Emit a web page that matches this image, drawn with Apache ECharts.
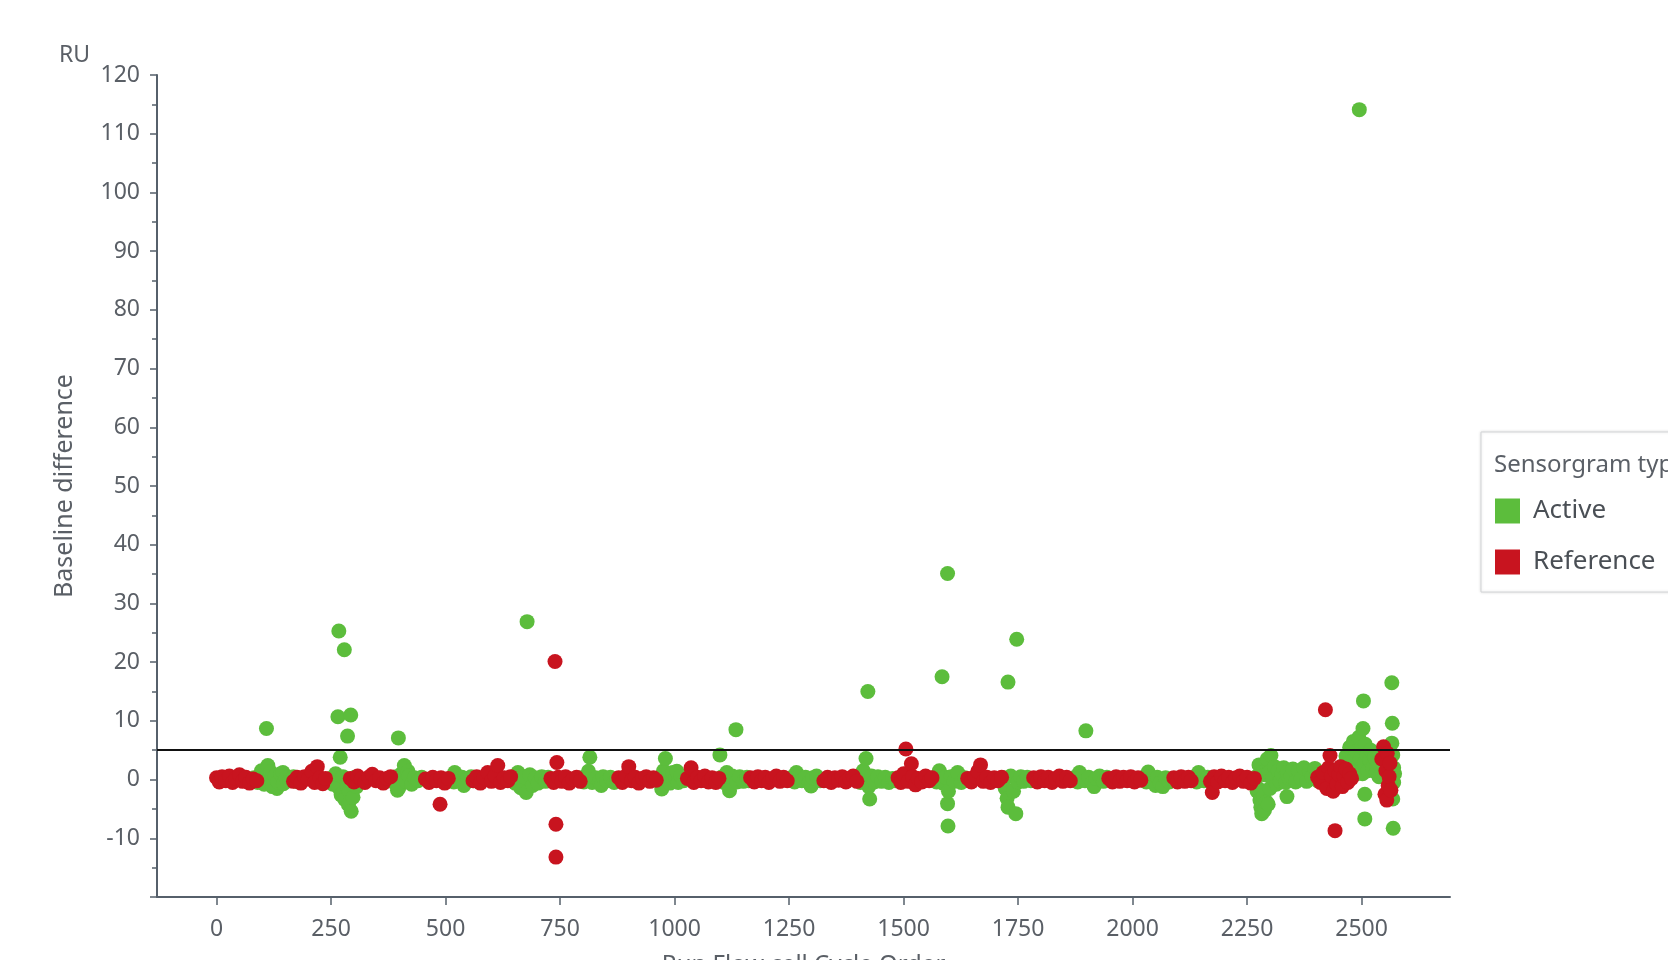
<!DOCTYPE html>
<html>
<head>
<meta charset="utf-8">
<script src="https://cdn.jsdelivr.net/npm/echarts@6/dist/echarts.min.js"></script>
<style>
html,body{margin:0;padding:0;background:#fff;}
#chart{width:1668px;height:960px;}
</style>
</head>
<body>
<div id="chart"></div>
<script>
// ---- data ----
const seriesNames = ['Active', 'Reference'];
const xTickValues = [0, 250, 500, 750, 1000, 1250, 1500, 1750, 2000, 2250, 2500];
const thresholdValue = 5;

const activePoints = [
  [82,0.3],[90,-0.5],[98,1.5],[104,-0.8],[109,8.7],[112,2.4],[116,0.4],[118,1.3],[122,-1.2],[128,0.6],[132,-1.5],[134,-0.4],[140,1.0],[145,1.2],[146,-0.7],[152,0.3],[160,-0.2],[168,0.5],[174,-0.3],
  [248,0.2],[254,-0.8],[260,1.0],[265,10.7],[267,25.3],[268,-1.5],[270,3.8],[272,-2.6],[276,0.5],[279,22.1],[280,-3.4],[284,-1.0],[286,7.4],[288,-4.3],[290,-2.0],[293,11.0],[294,-5.4],[298,-3.0],[302,0.4],[306,-1.2],
  [386,-0.4],[392,0.5],[395,-1.8],[397,7.1],[398,-1.4],[404,1.0],[410,2.4],[414,-0.3],[418,1.4],[420,0.6],[426,-0.8],[432,0.3],[440,-0.2],[448,0.4],
  [512,0.3],[518,-0.4],[520,1.2],[524,0.6],[530,-0.2],[536,0.4],[540,-1.0],[542,-0.5],[548,0.2],[556,0.5],[562,-0.2],
  [646,0.2],[652,-0.6],[658,1.2],[664,-1.4],[670,0.5],[676,-2.2],[678,26.9],[684,0.8],[690,-1.0],[696,0.3],[702,-0.6],[710,0.5],[718,-0.3],[724,0.4],
  [796,0.3],[802,-0.4],[808,0.6],[812,1.4],[815,3.8],[820,-0.5],[828,0.3],[836,-0.3],[840,-1.0],[844,0.5],[852,-0.2],[860,0.4],[868,-0.5],[874,0.2],
  [964,0.2],[970,-0.5],[972,-1.6],[976,1.5],[980,3.6],[984,0.4],[990,-0.6],[996,1.2],[1002,0.3],[1005,1.4],[1008,-0.5],[1014,0.6],[1020,-0.2],
  [1099,4.2],[1102,0.4],[1108,-0.5],[1114,1.2],[1120,-1.9],[1126,0.6],[1134,8.5],[1136,-0.4],[1142,0.5],[1150,-0.3],[1158,0.4],[1162,-0.2],
  [1254,0.3],[1262,-0.4],[1266,1.2],[1270,0.5],[1278,-0.2],[1286,0.4],[1294,-0.5],[1298,-1.1],[1302,0.3],[1310,0.6],[1318,-0.2],
  [1400,0.4],[1406,-0.5],[1412,1.5],[1418,3.6],[1422,15.0],[1424,-1.2],[1426,-3.3],[1430,0.6],[1436,-0.4],[1444,0.5],[1452,-0.3],[1460,0.4],[1468,-0.5],[1476,0.2],[1482,-0.2],
  [1566,0.3],[1572,-0.4],[1578,1.5],[1584,17.5],[1586,-0.6],[1592,0.4],[1596,35.1],[1596,-4.1],[1597,-7.9],[1598,-2.0],[1604,0.5],[1610,-0.3],[1618,1.2],[1626,-0.5],[1634,0.3],
  [1718,0.3],[1722,-1.5],[1726,-3.2],[1728,16.6],[1728,-4.7],[1734,0.6],[1740,-2.0],[1745,-5.8],[1747,23.9],[1750,-0.4],[1756,0.5],[1762,-0.3],[1770,0.4],[1778,-0.2],
  [1872,0.3],[1880,-0.4],[1884,1.2],[1888,0.5],[1896,-0.2],[1898,8.3],[1904,0.4],[1912,-0.5],[1916,-1.2],[1920,0.2],[1928,0.6],[1936,-0.3],[1944,0.4],
  [2022,0.3],[2030,-0.4],[2034,1.3],[2038,0.5],[2046,-0.2],[2050,-1.0],[2054,0.4],[2060,-0.6],[2066,-1.2],[2072,0.3],[2080,-0.4],[2086,0.2],
  [2132,0.3],[2140,-0.4],[2144,1.2],[2148,0.5],[2156,-0.2],[2164,0.4],
  [2270,0.5],[2272,-2.0],[2274,-1.5],[2276,2.5],[2278,-3.5],[2280,-4.7],[2282,-5.8],[2284,1.2],[2286,-2.8],[2288,-5.2],[2290,0.8],[2292,-3.8],[2294,3.5],[2296,-4.2],[2298,1.2],[2300,-1.5],[2302,4.1],[2306,0.3],[2310,2.2],[2314,-0.8],[2318,1.5],[2322,-0.3],[2326,0.9],[2330,2.0],[2334,-0.5],[2337,-2.9],[2338,1.2],[2342,0.2],[2346,0.6],[2350,1.8],[2356,-0.4],[2362,1.5],[2368,0.2],[2374,2.0],[2380,-0.3],[2386,1.4],[2392,0.5],[2398,1.9],[2404,-0.2],
  [2462,2.5],[2466,4.0],[2470,1.2],[2474,5.5],[2478,3.0],[2482,6.5],[2484,0.8],[2488,4.8],[2490,2.2],[2494,7.2],[2495,114.1],[2497,3.5],[2500,5.5],[2502,1.0],[2503,8.7],[2504,13.4],[2506,2.8],[2507,-2.5],[2507,-6.7],[2508,6.0],[2512,4.2],[2514,1.5],[2518,3.3],[2520,5.0],[2524,2.0],[2528,3.8],[2532,1.2],[2536,2.8],[2538,0.5],
  [2566,16.5],[2567,9.6],[2568,4.2],[2570,2.0],[2570,-0.5],[2568,-3.3],[2569,-8.3],[2572,1.0],[2566,6.2]
];

const referencePoints = [
  [0,0.3],[6,-0.4],[12,0.5],[20,-0.2],[28,0.6],[35,-0.5],[42,0.2],[50,0.8],[57,-0.3],[64,0.4],[72,-0.6],[80,0.1],[88,-0.2],
  [168,-0.3],[176,0.4],[184,-0.6],[192,0.5],[200,0.1],[208,1.4],[214,-0.5],[220,2.2],[226,0.3],[232,-0.7],[238,0.2],
  [292,0.2],[300,-0.4],[308,0.6],[316,0.1],[324,-0.5],[332,0.4],[340,0.9],[348,-0.2],[356,0.3],[364,-0.6],[372,0.2],[380,0.5],
  [456,0.1],[464,-0.5],[472,0.4],[480,-0.2],[488,-4.2],[490,0.3],[498,-0.6],[506,0.2],
  [560,-0.2],[568,0.5],[576,-0.6],[584,0.3],[592,1.2],[600,-0.3],[608,0.6],[614,2.4],[620,-0.5],[628,0.3],[636,-0.2],[642,0.5],
  [730,0.2],[736,-0.5],[739,20.1],[741,-7.6],[741,-13.2],[743,2.9],[746,0.4],[754,-0.3],[762,0.5],[770,-0.6],[778,0.1],[786,0.4],[794,-0.3],
  [878,0.3],[886,-0.5],[894,0.6],[900,2.2],[906,-0.2],[914,0.4],[922,-0.6],[930,0.2],[938,0.5],[946,-0.3],[954,0.3],[960,-0.1],
  [1028,0.2],[1036,2.0],[1042,-0.5],[1050,0.4],[1058,-0.2],[1066,0.6],[1074,-0.4],[1082,0.3],[1090,-0.5],[1097,0.2],
  [1166,0.3],[1174,-0.4],[1182,0.5],[1190,-0.2],[1198,0.4],[1206,-0.5],[1214,0.2],[1222,0.6],[1230,-0.3],[1238,0.4],[1246,-0.2],
  [1326,-0.2],[1334,0.4],[1342,-0.5],[1350,0.3],[1358,-0.1],[1366,0.5],[1374,-0.4],[1382,0.2],[1390,0.6],[1398,-0.3],
  [1488,0.3],[1494,-0.5],[1500,1.0],[1505,5.2],[1510,-0.3],[1517,2.7],[1520,0.5],[1526,-0.9],[1532,0.2],[1540,-0.4],[1548,0.6],[1556,-0.2],[1562,0.3],
  [1640,0.2],[1648,-0.4],[1656,0.5],[1662,1.4],[1668,2.5],[1674,-0.3],[1682,0.4],[1690,-0.5],[1698,0.3],[1706,-0.2],[1714,0.4],
  [1784,0.3],[1792,-0.4],[1800,0.5],[1808,-0.2],[1816,0.4],[1824,-0.5],[1832,0.2],[1840,0.6],[1848,-0.3],[1856,0.4],[1864,-0.2],
  [1948,0.2],[1956,-0.4],[1964,0.5],[1972,-0.3],[1980,0.4],[1988,-0.2],[1996,0.5],[2004,-0.4],[2012,0.3],[2018,-0.1],
  [2090,0.3],[2098,-0.4],[2106,0.5],[2114,-0.3],[2122,0.4],[2128,-0.2],
  [2170,-0.3],[2174,-2.2],[2178,0.5],[2186,-0.4],[2194,0.6],[2202,-0.2],[2210,0.4],[2218,-0.5],[2226,0.3],[2234,0.6],[2242,-0.3],[2250,0.4],[2258,-0.6],[2266,0.2],
  [2404,0.4],[2410,-0.5],[2416,1.2],[2421,11.9],[2424,-1.5],[2428,2.0],[2431,4.1],[2434,0.6],[2438,-2.0],[2442,-8.7],[2442,1.5],[2446,-0.8],[2450,0.9],[2454,2.2],[2458,-1.2],[2462,0.5],[2466,1.8],[2470,-0.5],[2474,1.0],[2478,0.2],
  [2544,3.5],[2548,5.6],[2551,-2.5],[2553,1.5],[2555,-3.5],[2556,4.5],[2558,-1.0],[2560,0.5],[2562,2.8],[2564,-1.8]
];

// ---- chart ----
const FONT = '"Noto Sans", sans-serif';
const TEXT = '#5a5f66';
const AXIS = '#56606b';
const GREEN = '#5cbd3c';
const RED = '#c8141f';

const chart = echarts.init(document.getElementById('chart'), null, {renderer: 'canvas'});
chart.setOption({
  animation: false,
  backgroundColor: '#ffffff',
  grid: {left: 157, right: 218, top: 75, bottom: 63, containLabel: false, outerBoundsMode: 'none'},
  graphic: [
    {type: 'rect', z: 0, shape: {x: 1481, y: 432, width: 260, height: 160},
     style: {fill: '#ffffff', stroke: '#d2d4d6', lineWidth: 1, shadowBlur: 3, shadowColor: 'rgba(0,0,0,0.12)'}},
    {type: 'text', z: 5, x: 1494, y: 465,
     style: {text: 'Sensorgram type', font: '24px ' + FONT, fill: TEXT, verticalAlign: 'middle'}},
    {type: 'text', z: 5, x: 59, y: 55,
     style: {text: 'RU', font: '23px ' + FONT, fill: TEXT, verticalAlign: 'middle'}}
  ],
  legend: {
    z: 10,
    orient: 'vertical',
    left: 1495, top: 498,
    padding: 0,
    itemWidth: 25, itemHeight: 25, itemGap: 25,
    icon: 'rect',
    data: seriesNames,
    textStyle: {fontSize: 26, fontFamily: FONT, color: '#4a4f55', padding: [0,0,0,8]}
  },
  xAxis: {
    type: 'value',
    min: -130, max: 2693,
    name: 'Run Flow cell Cycle Order',
    nameLocation: 'middle',
    nameGap: 56,
    nameTextStyle: {fontSize: 24, fontFamily: FONT, color: TEXT},
    axisLine: {show: true, onZero: false, lineStyle: {color: AXIS, width: 2}},
    axisTick: {show: true, length: 8, lineStyle: {color: AXIS, width: 1.5}, customValues: xTickValues},
    axisLabel: {fontSize: 23, fontFamily: FONT, color: TEXT, margin: 21, customValues: xTickValues,
                formatter: function (v) { return String(v); }},
    splitLine: {show: false}
  },
  yAxis: {
    type: 'value',
    min: -20, max: 120, interval: 10,
    name: 'Baseline difference',
    nameLocation: 'middle',
    nameRotate: 90,
    nameGap: 80,
    nameTextStyle: {fontSize: 25, fontFamily: FONT, color: TEXT},
    axisLine: {show: true, onZero: false, lineStyle: {color: AXIS, width: 2}},
    axisTick: {show: true, length: 7, lineStyle: {color: AXIS, width: 1.5}},
    minorTick: {show: true, splitNumber: 2, length: 5, lineStyle: {color: AXIS, width: 1.5}},
    axisLabel: {fontSize: 23, fontFamily: FONT, color: TEXT, margin: 17, showMinLabel: false},
    splitLine: {show: false}
  },
  series: [
    {
      name: 'Active', type: 'scatter', data: activePoints,
      symbolSize: 15, itemStyle: {color: GREEN, opacity: 1},
      markLine: {
        silent: true, symbol: ['none','none'], label: {show: false},
        lineStyle: {color: '#111111', width: 2, type: 'solid'},
        data: [{yAxis: thresholdValue}]
      }
    },
    {
      name: 'Reference', type: 'scatter', data: referencePoints,
      symbolSize: 15, itemStyle: {color: RED, opacity: 1}
    }
  ]
});
</script>
</body>
</html>
